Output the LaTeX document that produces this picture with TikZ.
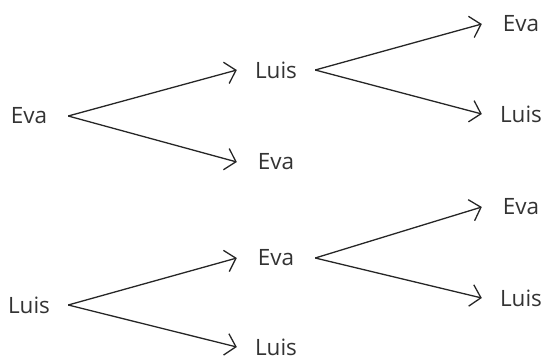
\documentclass[tikz,border=0pt]{standalone}
\usepackage{fontspec}
\setmainfont{Open Sans}
\usetikzlibrary{arrows.meta}

\begin{document}
\begin{tikzpicture}[x=1pt,y=-1pt,
	person/.style={minimum width=78pt,inner sep=0pt,text=black!80,font=\fontsize{22.5}{22.5}\selectfont},
	branch/.style={-{Straight Barb[length=10pt,width=22pt]},line width=1.3pt,black!85}]
	\useasboundingbox (0,0) rectangle (546,362);
	% first tree
	\node[person] (e0) at (29,116) {Eva};
	\node[person] (l1) at (276,70) {Luis};
	\node[person] (e1) at (276,162) {Eva};
	\node[person] (e2) at (521,24) {Eva};
	\node[person] (l2) at (521,114) {Luis};
	\draw[branch] (e0.east)--(l1.west);
	\draw[branch] (e0.east)--(e1.west);
	\draw[branch] (l1.east)--(e2.west);
	\draw[branch] (l1.east)--(l2.west);
	% second tree
	\node[person] (l0) at (29,305) {Luis};
	\node[person] (e3) at (276,258) {Eva};
	\node[person] (l3) at (276,347) {Luis};
	\node[person] (e4) at (521,207) {Eva};
	\node[person] (l4) at (521,298) {Luis};
	\draw[branch] (l0.east)--(e3.west);
	\draw[branch] (l0.east)--(l3.west);
	\draw[branch] (e3.east)--(e4.west);
	\draw[branch] (e3.east)--(l4.west);
\end{tikzpicture}
\end{document}
